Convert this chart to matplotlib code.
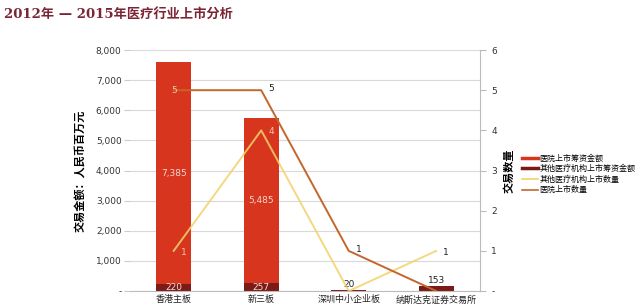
import matplotlib
matplotlib.use("Agg")
import matplotlib.pyplot as plt
from matplotlib.lines import Line2D
import matplotlib.ticker as mticker
import numpy as np

plt.rcParams['font.family'] = ['DejaVu Sans', 'Noto Sans CJK SC']

markets = ["香港主板", "新三板", "深圳中小企业板", "纳斯达克证券交易所"]
hospital_amount = [7385, 5485, 0, 0]        # 医院上市筹资金额
other_amount = [220, 257, 20, 153]          # 其他医疗机构上市筹资金额
other_count = [1, 4, 0, 1]                  # 其他医疗机构上市数量
hospital_count = [5, 5, 1, 0]               # 医院上市数量

c_hosp_bar = "#d8351f"
c_other_bar = "#7c1a16"
c_other_line = "#f2d26a"
c_hosp_line = "#c4662c"

fig = plt.figure(figsize=(6.4, 3.07), dpi=100)
ax = fig.add_axes([0.203, 0.052, 0.547, 0.785])
ax2 = ax.twinx()

x = np.arange(len(markets))
w = 0.4

ax.bar(x, other_amount, w, color=c_other_bar, zorder=2)
ax.bar(x, hospital_amount, w, bottom=other_amount, color=c_hosp_bar, zorder=2)

ax.set_xlim(-0.5, len(markets) - 0.5)
ax.set_ylim(0, 8000)
ax.yaxis.set_major_locator(mticker.MultipleLocator(1000))
ax.yaxis.set_major_formatter(mticker.FuncFormatter(
    lambda v, p: "-" if v == 0 else f"{int(v):,}"))
ax.grid(axis="y", color="#d9d9d9", linewidth=0.8, zorder=0)
ax.set_axisbelow(True)
ax.tick_params(axis="y", length=4, color="#cccccc", labelsize=6.5, pad=2,
               labelcolor="#333333")
ax.tick_params(axis="x", length=0, labelsize=6.5, pad=3, labelcolor="#222222")
ax.set_xticks(x)
ax.set_xticklabels(markets, family=["Noto Sans CJK SC"])
for s in ["top", "right", "left"]:
    ax.spines[s].set_visible(False)
ax.spines["bottom"].set_color("#bbbbbb")
ax.set_ylabel("交易金额：人民币百万元", family=["Noto Sans CJK SC"],
              fontsize=8, fontweight="bold", labelpad=6)

# value labels on bars
for i in range(len(markets)):
    if hospital_amount[i] > 0:
        ax.text(x[i], other_amount[i] + hospital_amount[i] / 2,
                f"{hospital_amount[i]:,}", ha="center", va="center",
                color="#f6d6cf", fontsize=6.5, zorder=4)
        ax.text(x[i], other_amount[i] / 2, f"{other_amount[i]:,}",
                ha="center", va="center", color="#f3dcd8", fontsize=6.5,
                zorder=4)
    else:
        ax.text(x[i], other_amount[i] + 60, f"{other_amount[i]:,}",
                ha="center", va="bottom", color="#222222", fontsize=6.5,
                zorder=4)

ax2.plot(x, other_count, color=c_other_line, lw=1.4, alpha=0.85, zorder=3)
ax2.plot(x, hospital_count, color=c_hosp_line, lw=1.4, zorder=3)
ax2.set_ylim(0, 6)
ax2.yaxis.set_major_locator(mticker.MultipleLocator(1))
ax2.yaxis.set_major_formatter(mticker.FuncFormatter(
    lambda v, p: "-" if v == 0 else f"{int(v)}"))
ax2.tick_params(axis="y", length=4, color="#bbbbbb", labelsize=6.5, pad=4,
                labelcolor="#333333")
for s in ["top", "left", "bottom"]:
    ax2.spines[s].set_visible(False)
ax2.spines["right"].set_color("#bbbbbb")
ax2.set_ylabel("交易数量", family=["Noto Sans CJK SC"], fontsize=8,
               fontweight="bold", labelpad=4)

# value labels on the count lines
def count_label(i, v, dx, dy, col):
    ax2.annotate(f"{v}", (x[i], v), xytext=(dx, dy), textcoords="offset points",
                 ha="center", va="center", fontsize=6.5, color=col, zorder=5)

for i, v in enumerate(other_count):
    if i == 2:
        continue
    on_bar = hospital_amount[i] > 0
    count_label(i, v, 7, -1, "#f6c7a6" if on_bar else "#222222")
for i, v in enumerate(hospital_count):
    if i == 3:
        continue
    if i == 0:
        count_label(i, v, 0, 0, "#f6c7a6")
    else:
        count_label(i, v, 7, 1, "#222222")

handles = [
    Line2D([], [], color=c_hosp_bar, lw=2.5),
    Line2D([], [], color=c_other_bar, lw=2.5),
    Line2D([], [], color=c_other_line, lw=1.2),
    Line2D([], [], color=c_hosp_line, lw=1.2),
]
labels = ["医院上市筹资金额", "其他医疗机构上市筹资金额",
          "其他医疗机构上市数量", "医院上市数量"]
fig.legend(handles, labels, loc="upper left", bbox_to_anchor=(0.815, 0.50),
           frameon=False, handlelength=2.0, handletextpad=0.2,
           labelspacing=0.2, borderaxespad=0, borderpad=0,
           prop={"family": ["Noto Sans CJK SC"], "size": 5.8})

fig.text(0.006, 0.975, "2012年 — 2015年医疗行业上市分析",
         family=["DejaVu Serif", "Noto Sans CJK SC"], fontsize=9.5,
         fontweight="bold", color="#7a2535", ha="left", va="top")

fig.savefig("out.png", dpi=100, facecolor="white")
